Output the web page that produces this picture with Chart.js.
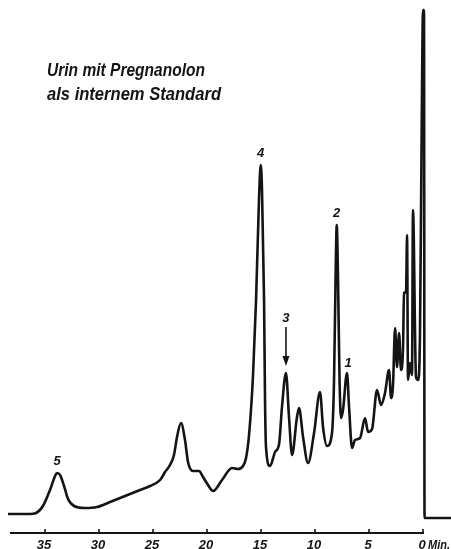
<!DOCTYPE html>
<html>
<head>
<meta charset="utf-8">
<title>Urin mit Pregnanolon als internem Standard</title>
<script src="https://cdn.jsdelivr.net/npm/chart.js@4/dist/chart.umd.min.js"></script>
<style>
  html, body { margin: 0; padding: 0; background: #fff; }
  #wrap { width: 451px; height: 549px; position: relative; }
</style>
</head>
<body>
<div id="wrap"><canvas id="gc" width="451" height="549"></canvas></div>
<script>
// Retention time in minutes (counted back from injection at 0 min)
const retentionTimes = [
  38.43, 36.39, 35.83, 35.19, 34.54, 34.07, 33.89, 33.61, 33.24, 32.87,
  32.31, 31.30, 30.19, 28.98, 27.59, 26.20, 25.28, 24.35, 23.89, 23.43,
  23.06, 22.78, 22.41, 22.04, 21.76, 21.30, 20.74, 20.37, 19.91, 19.44,
  18.61, 17.69, 17.13, 16.67, 16.39, 16.11, 15.74, 15.46, 15.19, 15.03,
  14.91, 14.72, 14.63, 14.54, 14.17, 13.70, 13.33, 13.06, 12.69, 12.41,
  12.13, 11.67, 11.48, 11.11, 10.65, 10.09, 9.54, 9.26, 8.89, 8.43,
  8.24, 8.10, 7.99, 7.87, 7.73, 7.59, 7.41, 7.04, 6.85, 6.57,
  6.30, 5.83, 5.37, 5.09, 4.72, 4.26, 3.89, 3.52, 3.15, 2.96,
  2.78, 2.59, 2.41, 2.22, 2.04, 1.85, 1.76, 1.57, 1.48, 1.39,
  1.20, 1.02, 0.93, 0.65, 0.46, 0.28, 0.14, 0.00, -0.09, -0.14,
  -2.59
];

// Detector response (arbitrary units above the time axis)
const detectorResponse = [
  19, 19, 20, 27, 43, 57, 60, 58, 47, 34,
  27, 25, 26, 31, 37, 43, 47, 53, 61, 68,
  78, 96, 110, 93, 71, 62, 62, 56, 48, 42,
  53, 65, 64, 67, 75, 98, 158, 233, 333, 368,
  343, 233, 133, 86, 67, 81, 89, 126, 160, 116,
  78, 116, 125, 96, 70, 100, 141, 106, 87, 100,
  153, 253, 308, 253, 153, 115, 123, 160, 126, 85,
  93, 95, 115, 101, 104, 143, 128, 140, 163, 135,
  148, 205, 166, 200, 163, 186, 240, 241, 298, 153,
  170, 158, 323, 156, 153, 200, 383, 523, 523, 15,
  15
];

// Numbered peaks
const peakNumbers = ['5', '4', '3', '2', '1'];
const peakTimes   = [33.89, 15.03, 12.69, 7.99, 7.04];
const peakHeights = [60, 368, 160, 308, 160];

// Time axis
const tickValues = [35, 30, 25, 20, 15, 10, 5, 0];
const tickLabels = ['35', '30', '25', '20', '15', '10', '5', '0'];
const axisStart = 38.24;
const axisUnit = 'Min.';

// Caption
const captionLines = ['Urin mit Pregnanolon', 'als internem Standard'];

const INK = '#141414';
const LABEL_FONT = 'italic bold 13px "Liberation Sans", Arial, sans-serif';

const points = retentionTimes.map((t, i) => ({ x: t, y: detectorResponse[i] }));

const overlay = {
  id: 'overlay',
  afterDraw(chart) {
    const ctx = chart.ctx;
    const xs = chart.scales.x, ys = chart.scales.y;
    const y0 = ys.getPixelForValue(0);
    ctx.save();
    ctx.strokeStyle = INK;
    ctx.fillStyle = INK;

    // time axis line with upward ticks
    ctx.lineWidth = 2;
    ctx.beginPath();
    ctx.moveTo(xs.getPixelForValue(axisStart), y0);
    ctx.lineTo(xs.getPixelForValue(0) + 1, y0);
    ctx.stroke();
    ctx.lineWidth = 1.6;
    tickValues.forEach(v => {
      const px = xs.getPixelForValue(v);
      ctx.beginPath();
      ctx.moveTo(px, y0);
      ctx.lineTo(px, y0 - 4);
      ctx.stroke();
    });

    // tick labels
    ctx.font = LABEL_FONT;
    ctx.textAlign = 'center';
    ctx.textBaseline = 'middle';
    tickValues.forEach((v, i) => {
      ctx.fillText(tickLabels[i], xs.getPixelForValue(v) - 1, y0 + 12);
    });
    ctx.textAlign = 'left';
    ctx.fillText(axisUnit, xs.getPixelForValue(0) + 5, y0 + 12, 22);

    // peak numbers
    peakNumbers.forEach((n, i) => {
      const px = xs.getPixelForValue(peakTimes[i]);
      const py = ys.getPixelForValue(peakHeights[i]);
      ctx.textAlign = 'center';
      if (n === '3') {
        ctx.fillText(n, px, py - 55);
        ctx.lineWidth = 1.6;
        ctx.beginPath();
        ctx.moveTo(px, py - 46);
        ctx.lineTo(px, py - 12);
        ctx.stroke();
        ctx.beginPath();
        ctx.moveTo(px - 3.5, py - 17);
        ctx.lineTo(px + 3.5, py - 17);
        ctx.lineTo(px, py - 7);
        ctx.closePath();
        ctx.fill();
      } else if (n === '1') {
        ctx.fillText(n, px + 1, py - 10);
      } else {
        ctx.fillText(n, px, py - 12);
      }
    });

    // caption
    ctx.font = 'italic bold 18px "Liberation Sans", Arial, sans-serif';
    ctx.textAlign = 'left';
    ctx.textBaseline = 'alphabetic';
    ctx.fillText(captionLines[0], 47, 76, 158);
    ctx.fillText(captionLines[1], 47, 100, 174);
    ctx.restore();
  }
};

new Chart(document.getElementById('gc'), {
  type: 'scatter',
  data: {
    datasets: [{
      data: points,
      showLine: true,
      borderColor: INK,
      borderWidth: 2.6,
      pointRadius: 0,
      cubicInterpolationMode: 'monotone',
      fill: false
    }]
  },
  options: {
    responsive: false,
    animation: false,
    events: [],
    layout: { padding: 0 },
    plugins: { legend: { display: false }, tooltip: { enabled: false } },
    scales: {
      x: { type: 'linear', reverse: true, min: -2.59, max: 39.17, display: false },
      y: { type: 'linear', min: -16, max: 533, display: false }
    }
  },
  plugins: [overlay]
});
</script>
</body>
</html>
